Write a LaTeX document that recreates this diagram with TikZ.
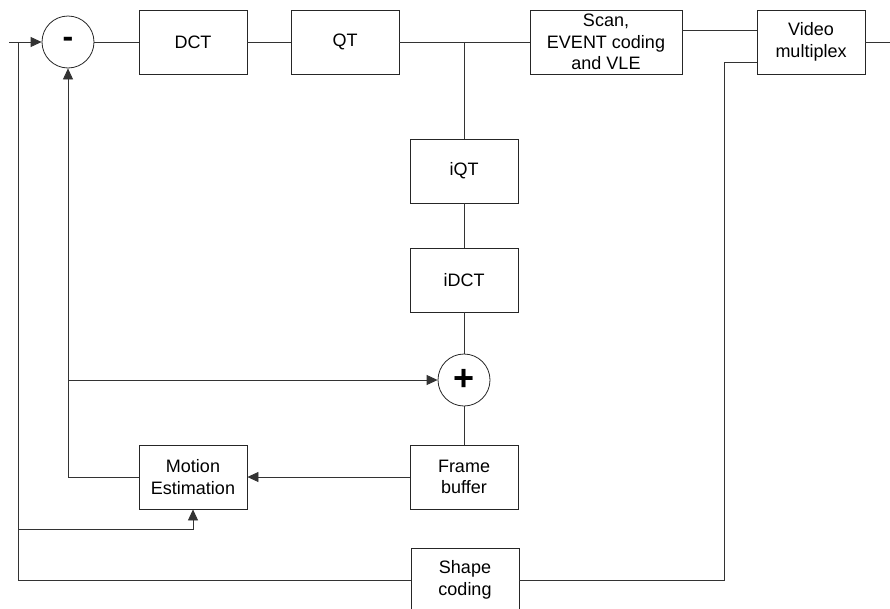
\documentclass[tikz,border=0pt]{standalone}
\usepackage{fontspec}
\setmainfont{Liberation Sans}
\usetikzlibrary{arrows.meta}
\begin{document}
\begin{tikzpicture}[x=1pt,y=-1pt,
  wire/.style={line width=0.8pt,draw=black!80},
  arr/.style={wire,-{Triangle[length=11pt,width=10pt]}},
  blk/.style={draw=black!85,line width=0.8pt,minimum width=108pt,minimum height=64pt,inner sep=1pt,align=center,font=\fontsize{18}{21.5}\selectfont},
  sumnode/.style={circle,draw=black!85,line width=0.8pt,minimum size=52pt,inner sep=0pt}]
\clip (0,0) rectangle (890,608);
\useasboundingbox (0,0) rectangle (890,608);
% nodes
\node[sumnode] (minus) at (68,42) {\raisebox{-4pt}{\fontsize{32}{32}\selectfont\bfseries -}};
\node[blk] (dct) at (193,42) {DCT};
\node[blk] (qt) at (345,42) {QT};
\node[blk,minimum width=152pt] (scan) at (606,42) {Scan,\\EVENT coding\\and VLE};
\node[blk] (vmux) at (811,42) {Video\\multiplex};
\node[blk] (iqt) at (464,171) {iQT};
\node[blk] (idct) at (464,280) {iDCT};
\node[sumnode] (plus) at (464,380) {\fontsize{36}{36}\selectfont\bfseries +};
\node[blk] (fb) at (464,477) {Frame\\buffer};
\node[blk] (me) at (193,477) {Motion\\Estimation};
\node[blk] (shape) at (465,580) {Shape\\coding};
% coordinates
\coordinate (in) at (9,42);
\coordinate (j1) at (18,42);
\coordinate (j1b) at (18,529);
\coordinate (j1c) at (18,580);
\coordinate (mecorner) at (193,529);
\coordinate (tap) at (464,42);
\coordinate (out) at (890,42);
\coordinate (melc) at (68,477);
\coordinate (pl) at (68,380);
\coordinate (vc1) at (724,62);
\coordinate (vc2) at (724,580);
% connectors
\draw[arr] (in) -- (minus.west);
\draw[wire] (minus.east) -- (dct.west);
\draw[wire] (dct.east) -- (qt.west);
\draw[wire] (qt.east) -- (scan.west);
\draw[wire] ([yshift=12pt]scan.east) -- ([yshift=12pt]vmux.west);
\draw[wire] (vmux.east) -- (out);
\draw[wire] (tap) -- (iqt.north);
\draw[wire] (iqt.south) -- (idct.north);
\draw[wire] (idct.south) -- (plus.north);
\draw[wire] (plus.south) -- (fb.north);
\draw[arr] (fb.west) -- (me.east);
\draw[arr] (me.west) -- (melc) -- (minus.south);
\draw[arr] (pl) -- (plus.west);
\draw[wire] (j1) -- (j1c) -- (shape.west);
\draw[arr] (j1b) -- (mecorner) -- (me.south);
\draw[wire] (shape.east) -- (vc2) -- (vc1) -- ([yshift=-20pt]vmux.west);
\end{tikzpicture}
\end{document}
